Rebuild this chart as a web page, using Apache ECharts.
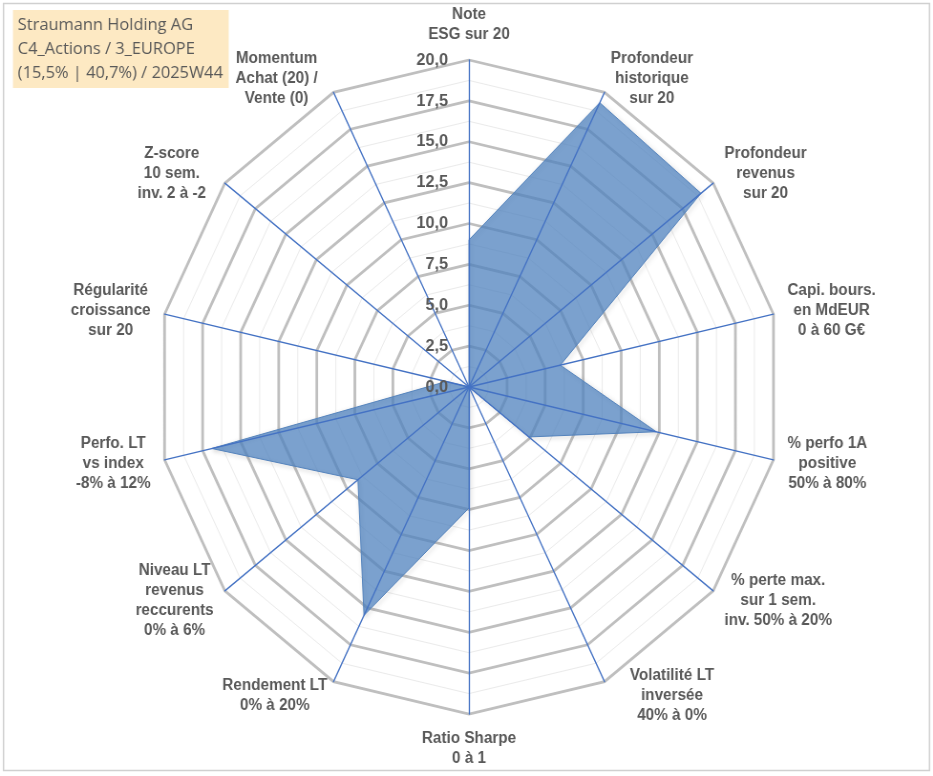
<!DOCTYPE html>
<html>
<head>
<meta charset="utf-8">
<script src="https://cdn.jsdelivr.net/npm/echarts@6/dist/echarts.min.js"></script>
<style>
html,body{margin:0;padding:0;background:#fff;overflow:hidden;width:933px;height:776px;}
#chart{width:977px;height:776px;transform:scaleX(0.955);transform-origin:0 0;}
</style>
</head>
<body>
<div id="chart"></div>
<script>
// ---- data ----
const titleLines = ['Straumann Holding AG', 'C4_Actions / 3_EUROPE', '(15,5% | 40,7%) / 2025W44'];
const categories = [
  'Note\nESG sur 20',
  'Profondeur\nhistorique\nsur 20',
  'Profondeur\nrevenus\nsur 20',
  'Capi. bours.\nen MdEUR\n0 à 60 G€',
  '% perfo 1A\npositive\n50% à 80%',
  '% perte max.\nsur 1 sem.\ninv. 50% à 20%',
  'Volatilité LT\ninversée\n40% à 0%',
  'Ratio Sharpe\n0 à 1',
  'Rendement LT\n0% à 20%',
  'Niveau LT\nrevenus\nreccurents\n0% à 6%',
  'Perfo. LT\nvs index\n-8% à 12%',
  'Régularité\ncroissance\nsur 20',
  'Z-score\n10 sem.\ninv. 2 à -2',
  'Momentum\nAchat (20) /\nVente (0)'
];
const values = [9.0, 19.3, 19.0, 6.0, 12.3, 4.9, 0, 7.4, 15.5, 9.1, 16.9, 1.5, 0, 0];
const tickLabels = ['0,0', '2,5', '5,0', '7,5', '10,0', '12,5', '15,0', '17,5', '20,0'];
const axisMax = 20;
const tickStep = 2.5;

// ---- layout / style (chart drawn on a 977px canvas squeezed to 933px wide) ----
const SX = 0.955;
const CENTER = [469 / SX, 387];
const RADIUS = 327;
const FONT = '"Liberation Sans", Arial, sans-serif';
const TXT = '#595959';
// extra outward push of a few axis-name blocks (style only, px before squeeze)
const nameShift = { 6: 20, 12: 8, 13: 10 };

// ECharts radar runs counter-clockwise: reorder so the chart reads clockwise
const order = categories.map((_, i) => (i === 0 ? 0 : categories.length - i));
const indicators = order.map(i => ({ name: categories[i], min: 0, max: axisMax }));
const orderedValues = order.map(i => values[i]);

const nameStyle = (pad) => ({
  align: 'center',
  fontFamily: FONT,
  fontWeight: 'bold',
  fontSize: 16,
  color: TXT,
  lineHeight: 20,
  padding: pad
});
const rich = { c: nameStyle([0, 0, 0, 0]) };
Object.keys(nameShift).forEach(k => {
  const i = Number(k);
  // right half of chart: pad on the left; left half: pad on the right
  rich['s' + i] = nameStyle(i <= 7 ? [0, 0, 0, nameShift[k]] : [0, nameShift[k], 0, 0]);
});

const baseRadar = {
  center: CENTER,
  radius: RADIUS,
  startAngle: 90,
  shape: 'polygon',
  indicator: indicators,
  axisLine: { show: false },
  splitArea: { show: false },
  axisTick: { show: false },
  axisLabel: { show: false },
  axisName: { show: false }
};

const chart = echarts.init(document.getElementById('chart'), null, { renderer: 'canvas' });
chart.setOption({
  backgroundColor: '#ffffff',
  animation: false,
  title: {
    text: titleLines.join('\n'),
    left: 13 / SX,
    top: 10,
    padding: [3, 6, 3, 5],
    backgroundColor: '#FDE9C3',
    textStyle: {
      fontFamily: '"Open Sans", sans-serif',
      fontSize: 17.2,
      fontWeight: 'normal',
      color: TXT,
      lineHeight: 24
    }
  },
  graphic: [{
    type: 'rect',
    shape: { x: 3.5 / SX, y: 3.5, width: 926 / SX, height: 767 },
    style: { fill: 'none', stroke: '#D0D0D0', lineWidth: 1.5 },
    silent: true,
    z: -1
  }],
  radar: [
    Object.assign({}, baseRadar, {
      z: 0,
      splitNumber: 16,
      splitLine: { lineStyle: { color: '#EBEBEB', width: 1 } },
      axisName: {
        show: true,
        formatter: (name) => {
          const idx = categories.indexOf(name);
          const key = rich['s' + idx] ? 's' + idx : 'c';
          return name.split('\n').map(l => '{' + key + '|' + l + '}').join('\n');
        },
        rich: rich
      },
      nameGap: 15
    }),
    Object.assign({}, baseRadar, {
      z: 1,
      splitNumber: 8,
      splitLine: { lineStyle: { color: '#BFBFBF', width: 2.8 } }
    }),
    Object.assign({}, baseRadar, {
      z: 3,
      splitNumber: 8,
      splitLine: { show: false },
      axisLine: { show: true, lineStyle: { color: '#4472C4', width: 1.3 } }
    })
  ],
  polar: { center: CENTER, radius: RADIUS, z: 4 },
  angleAxis: { show: false, startAngle: 90, min: 0, max: 360 },
  radiusAxis: {
    min: 0,
    max: axisMax,
    interval: tickStep,
    z: 4,
    axisLine: { show: false },
    axisTick: { show: false },
    splitLine: { show: false },
    axisLabel: {
      show: true,
      margin: 22,
      fontFamily: FONT,
      fontWeight: 'bold',
      fontSize: 17,
      color: TXT,
      formatter: (v) => tickLabels[Math.round(v / tickStep)]
    }
  },
  series: [{
    type: 'radar',
    radarIndex: 1,
    z: 2,
    symbol: 'none',
    lineStyle: {
      color: '#5A86BD',
      width: 1,
      shadowBlur: 4,
      shadowColor: 'rgba(0,0,0,0.35)',
      shadowOffsetX: 1.5,
      shadowOffsetY: 1.5
    },
    areaStyle: { color: '#4F81BD', opacity: 0.75 },
    data: [{ value: orderedValues, name: 'Straumann Holding AG' }]
  }]
});
</script>
</body>
</html>
